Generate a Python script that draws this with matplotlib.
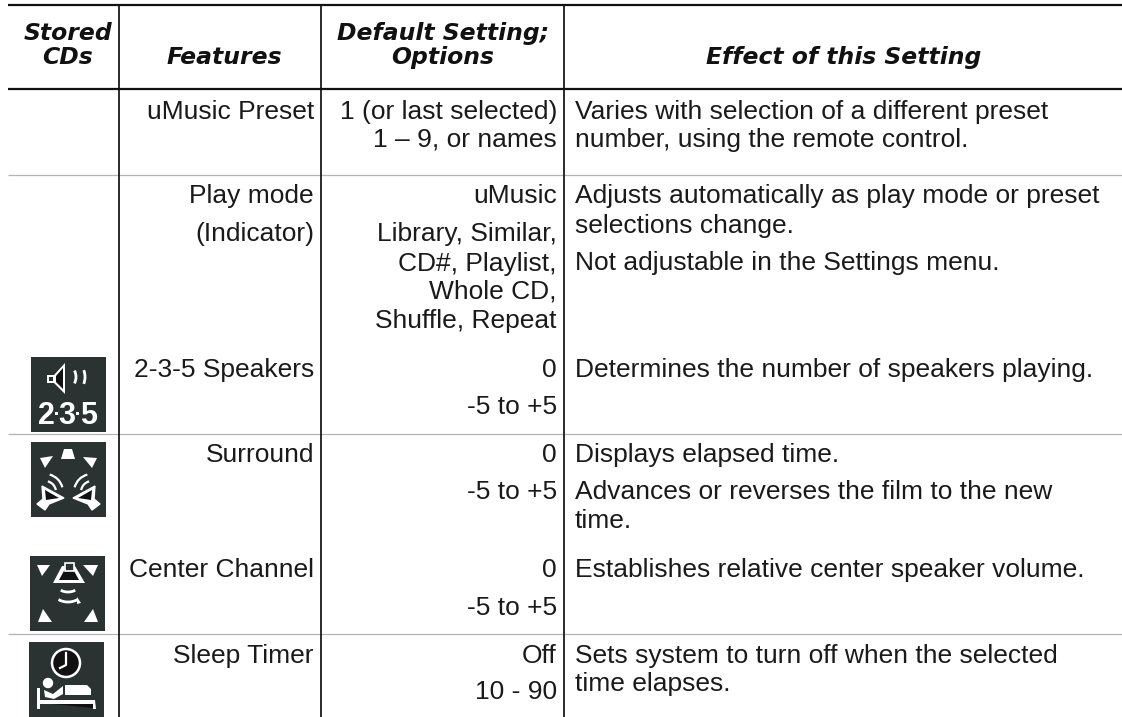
import matplotlib
matplotlib.use("Agg")
import matplotlib.pyplot as plt
from matplotlib.patches import Rectangle, Polygon, Circle, Arc

BODY = "Liberation Sans"
HEAD = "DejaVu Sans"
BODY_SIZE = 19.0
HEAD_SIZE = 16.9

feature_labels = ["uMusic Preset", "Play mode", "(Indicator)", "2-3-5 Speakers", "Surround", "Center Channel", "Sleep Timer"]
feature_base = [119, 203, 241, 377, 462, 577, 663]
option_labels = ["1 (or last selected)", "1 – 9, or names", "uMusic", "Library, Similar,", "CD#, Playlist,", "Whole CD,",
                 "Shuffle, Repeat", "0", "-5 to +5", "0", "-5 to +5", "0", "-5 to +5", "Off", "10 - 90"]
option_base = [119, 147, 203, 241, 271, 299, 328, 377, 414, 462, 499, 577, 615, 663, 699]
effect_labels = ["Varies with selection of a different preset", "number, using the remote control.",
                 "Adjusts automatically as play mode or preset", "selections change.",
                 "Not adjustable in the Settings menu.", "Determines the number of speakers playing.",
                 "Displays elapsed time.", "Advances or reverses the film to the new", "time.",
                 "Establishes relative center speaker volume.", "Sets system to turn off when the selected", "time elapses."]
effect_base = [119, 147, 203, 233, 270, 377, 462, 499, 528, 577, 663, 691]
headers = [("Stored", 68, 40), ("CDs", 68, 64), ("Features", 224, 64), ("Default Setting;", 443, 40), ("Options", 443, 64),
           ("Effect of this Setting", 844, 64)]
vlines = [119, 321, 564]
gray_rows = [175, 434, 634]

fig = plt.figure(figsize=(11.22, 7.17), dpi=100, facecolor="white")
ax = fig.add_axes([0, 0, 1, 1])
ax.set_xlim(0, 1122)
ax.set_ylim(717, 0)
ax.axis("off")

ax.plot([8, 1122], [5, 5], color="#111111", lw=1.6, solid_capstyle="butt")
ax.plot([8, 1122], [89, 89], color="#111111", lw=1.6, solid_capstyle="butt")
for y in gray_rows:
    ax.plot([8, 1122], [y, y], color="#b4b4b4", lw=0.9, solid_capstyle="butt")
for x in vlines:
    ax.plot([x, x], [5, 717], color="#111111", lw=1.25, solid_capstyle="butt", zorder=3)

for txt, x, y in headers:
    ax.text(x, y, txt, ha="center", va="baseline", family=HEAD, weight="bold", style="oblique", size=HEAD_SIZE, color="#111111")
for txt, y in zip(feature_labels, feature_base):
    ax.text(314, y, txt, ha="right", va="baseline", family=BODY, size=BODY_SIZE, color="#1a1a1a")
for txt, y in zip(option_labels, option_base):
    ax.text(557, y, txt, ha="right", va="baseline", family=BODY, size=BODY_SIZE, color="#1a1a1a")
for txt, y in zip(effect_labels, effect_base):
    ax.text(575, y, txt, ha="left", va="baseline", family=BODY, size=BODY_SIZE, color="#1a1a1a")

DARK = "#2a3232"
W = "white"

def box(x0, y0, h=75):
    ax.add_patch(Rectangle((x0, y0), 75, h, fc=DARK, ec="none", zorder=4))

def poly(x0, y0, pts, fc=W, ec="none", lw=0, z=5):
    ax.add_patch(Polygon([(x0 + a, y0 + b) for a, b in pts], closed=True, fc=fc, ec=ec, lw=lw, zorder=z))

def arc(x0, y0, cx, cy, w, h, t1, t2, lw=1.6):
    ax.add_patch(Arc((x0 + cx, y0 + cy), w, h, theta1=t1, theta2=t2, color=W, lw=lw, zorder=6))

# 2-3-5 icon
x0, y0 = 31, 357
box(x0, y0)
poly(x0, y0, [(16, 18), (23, 18), (34, 6), (34, 37), (23, 26), (16, 26)])
poly(x0, y0, [(18.5, 20), (22, 20), (22, 24), (18.5, 24)], fc=DARK)
poly(x0, y0, [(25, 19), (32, 11), (32, 32), (25, 25)], fc="#111111")
arc(x0, y0, 38, 20, 14, 20, 310, 50, lw=2)
arc(x0, y0, 47, 20, 14, 24, 310, 50, lw=2)
for cx, digit in zip([15, 36, 58], "235"):
    ax.text(x0 + cx, y0 + 67, digit, ha="center", va="baseline", family=BODY, weight="bold", size=22, color=W, zorder=6)
for cx in [26, 47]:
    ax.add_patch(Rectangle((x0 + cx - 1.5, y0 + 55), 3, 3, fc=W, ec="none", zorder=7))

# surround icon
x0, y0 = 31, 442
box(x0, y0)
poly(x0, y0, [(30, 17), (33, 7), (41, 7), (44, 17)])
poly(x0, y0, [(9, 16), (22, 14), (14, 26)])
poly(x0, y0, [(66, 16), (52, 15), (61, 26)])
poly(x0, y0, [(11, 44), (33, 56), (18, 62), (14, 68), (6, 62), (12, 57)], ec=W, lw=1)
poly(x0, y0, [(14, 48), (28, 56), (15, 58)], fc="#111111")
poly(x0, y0, [(64, 44), (42, 56), (57, 62), (61, 68), (69, 62), (63, 57)], ec=W, lw=1)
poly(x0, y0, [(61, 48), (47, 56), (60, 58)], fc="#111111")
arc(x0, y0, 14, 50, 22, 22, 285, 350)
arc(x0, y0, 14, 50, 36, 36, 285, 345)
arc(x0, y0, 61, 50, 22, 22, 190, 255)
arc(x0, y0, 61, 50, 36, 36, 195, 255)

# centre channel icon
x0, y0 = 30, 556
box(x0, y0)
poly(x0, y0, [(23, 27), (32, 10), (45, 10), (55, 27)])
poly(x0, y0, [(29, 24), (35, 13), (43, 13), (49, 24)], fc="#111111")
poly(x0, y0, [(35, 7), (44, 7), (44, 15), (35, 15)], ec=W, lw=1.2, fc=DARK)
poly(x0, y0, [(7, 9), (20, 9), (12, 20)])
poly(x0, y0, [(53, 9), (68, 9), (63, 20)])
poly(x0, y0, [(8, 66), (22, 66), (13, 53)])
poly(x0, y0, [(54, 66), (68, 66), (63, 53)])
arc(x0, y0, 38, 30, 20, 12, 30, 150, lw=2)
arc(x0, y0, 38, 38, 26, 16, 30, 150, lw=2)
poly(x0, y0, [(47, 41), (51, 47), (47, 48)])

# sleep timer icon
x0, y0 = 29, 642
box(x0, y0)
ax.add_patch(Circle((x0 + 37, y0 + 21), 14, fc="#111111", ec=W, lw=1.8, zorder=5))
ax.plot([x0 + 37, x0 + 37, x0 + 31], [y0 + 11, y0 + 23, y0 + 26], color=W, lw=1.6, zorder=6)
ax.add_patch(Circle((x0 + 19, y0 + 41), 5.2, fc=W, ec="none", zorder=5))
poly(x0, y0, [(15, 48), (24, 52), (34, 44), (34, 52), (25, 57), (16, 55)])
poly(x0, y0, [(36, 43), (58, 43), (62, 47), (62, 53), (36, 53)])
poly(x0, y0, [(8, 46), (11, 46), (11, 58), (66, 58), (67, 67), (64, 67), (64, 62), (11, 62), (11, 67), (8, 67)])
poly(x0, y0, [(24, 62), (64, 62), (64, 66)], fc="#111111")

fig.savefig("out.png", dpi=100, facecolor="white")
